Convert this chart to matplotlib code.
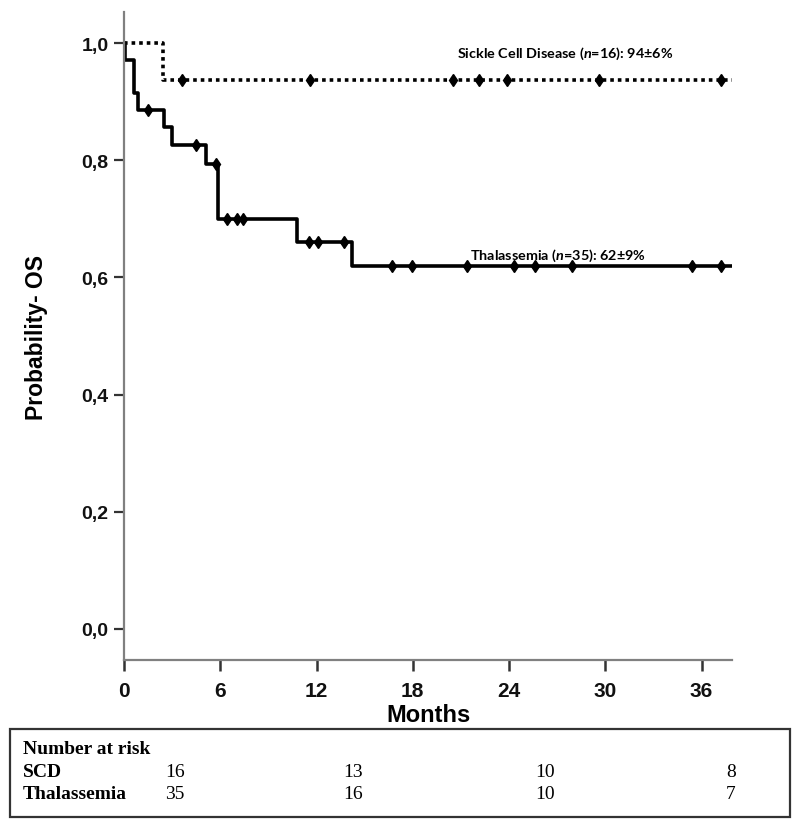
import numpy as np
import matplotlib
matplotlib.use("Agg")
import matplotlib.pyplot as plt
from matplotlib.patches import Rectangle

# Kaplan-Meier steps (months, probability)
scd_times = [0, 2.45]
scd_surv = [1.0, 0.9375]
scd_censor = [3.6, 11.6, 20.5, 22.1, 23.9, 29.6, 37.2]

thal_times = [0, 0.05, 0.6, 0.9, 2.5, 2.97, 5.1, 5.88, 10.76, 14.2]
thal_surv = [1.0, 0.971, 0.914, 0.886, 0.856, 0.826, 0.794, 0.699, 0.661, 0.619]
thal_censor = [1.5, 4.47, 5.73, 6.4, 7.05, 7.4, 11.55, 12.1, 13.7, 16.7,
               17.96, 21.35, 24.3, 25.6, 27.9, 35.4, 37.2]

t_end = 37.9
xticks = [0, 6, 12, 18, 24, 30, 36]
yticks = [0.0, 0.2, 0.4, 0.6, 0.8, 1.0]
ytick_labels = ["0,0", "0,2", "0,4", "0,6", "0,8", "1,0"]

risk_groups = ["SCD", "Thalassemia"]
risk_scd = [16, 13, 10, 8]
risk_thal = [35, 16, 10, 7]

plt.rcParams['font.family'] = ['Liberation Sans', 'DejaVu Sans']
plt.rcParams['mathtext.fontset'] = 'custom'
plt.rcParams['mathtext.it'] = 'Lato:italic:bold'
plt.rcParams['mathtext.rm'] = 'Lato:bold'

W, H = 800, 828
fig = plt.figure(figsize=(W / 100, H / 100), dpi=100)
ax = fig.add_axes([124 / W, 1 - 661 / H, (732 - 124) / W, (661 - 13) / H])


def km_at(times, surv, t):
    i = np.searchsorted(times, t, side='right') - 1
    return surv[i]


# SCD - dotted
sx = scd_times + [t_end]
sy = scd_surv + [scd_surv[-1]]
ax.step(sx, sy, where='post', color='black', lw=2.6, ls=(0, (1, 1.1)),
        solid_capstyle='butt')
ax.plot(scd_censor, [km_at(scd_times, scd_surv, t) for t in scd_censor],
        ls='none', marker='d', ms=6.5, color='black')

# Thalassemia - solid
tx = thal_times + [t_end]
ty = thal_surv + [thal_surv[-1]]
ax.step(tx, ty, where='post', color='black', lw=2.6)
ax.plot(thal_censor, [km_at(thal_times, thal_surv, t) for t in thal_censor],
        ls='none', marker='d', ms=6.5, color='black')

ax.set_xlim(0, t_end)
ax.set_ylim(-0.053, 1.053)
ax.set_xticks(xticks)
ax.set_xticklabels([str(v) for v in xticks], fontsize=15, fontweight='bold',
                   color='#111111')
ax.set_yticks(yticks)
ax.set_yticklabels(ytick_labels, fontsize=14, fontweight='bold', color='#111111')
for s in ['top', 'right']:
    ax.spines[s].set_visible(False)
for s in ['left', 'bottom']:
    ax.spines[s].set_color('#808080')
    ax.spines[s].set_linewidth(1.6)
ax.tick_params(axis='x', length=8, width=1.8, color='#333333', pad=7)
ax.tick_params(axis='y', length=7, width=1.6, color='#333333', pad=4)

ax.text(20.75, 0.983, r"Sickle Cell Disease ($\it{n}$=16): 94±6%",
        fontsize=10.4, fontweight='bold', family=['Lato', 'DejaVu Sans'],
        va='center', ha='left')
ax.text(21.56, 0.638, r"Thalassemia ($\it{n}$=35): 62±9%",
        fontsize=10.4, fontweight='bold', family=['Lato', 'DejaVu Sans'],
        va='center', ha='left')

fig.text(428 / W, 1 - 716 / H, "Months", fontsize=17, fontweight='bold',
         ha='center', va='center')
fig.text(37 / W, 1 - 337 / H, "Probability- OS", fontsize=16.5,
         fontweight='bold', rotation=90, ha='center', va='center')

# Number at risk box
fig.patches.append(Rectangle((10 / W, 1 - 818 / H), 780 / W, 88 / H,
                             transform=fig.transFigure, fill=False,
                             edgecolor='#333333', lw=1.6))
serif = ['Liberation Serif', 'DejaVu Serif']
fig.text(23 / W, 1 - 750 / H, "Number at risk", fontsize=14, fontweight='bold',
         family=serif, va='center', ha='left')
row_y = [773, 795]
col_x = [175, 353, 545, 731]
for name, vals, y in zip(risk_groups, [risk_scd, risk_thal], row_y):
    fig.text(23 / W, 1 - y / H, name, fontsize=14, fontweight='bold',
             family=serif, va='center', ha='left')
    for v, x in zip(vals, col_x):
        fig.text(x / W, 1 - y / H, str(v), fontsize=14, family=serif,
                 va='center', ha='center')

fig.savefig("out.png", dpi=100)
